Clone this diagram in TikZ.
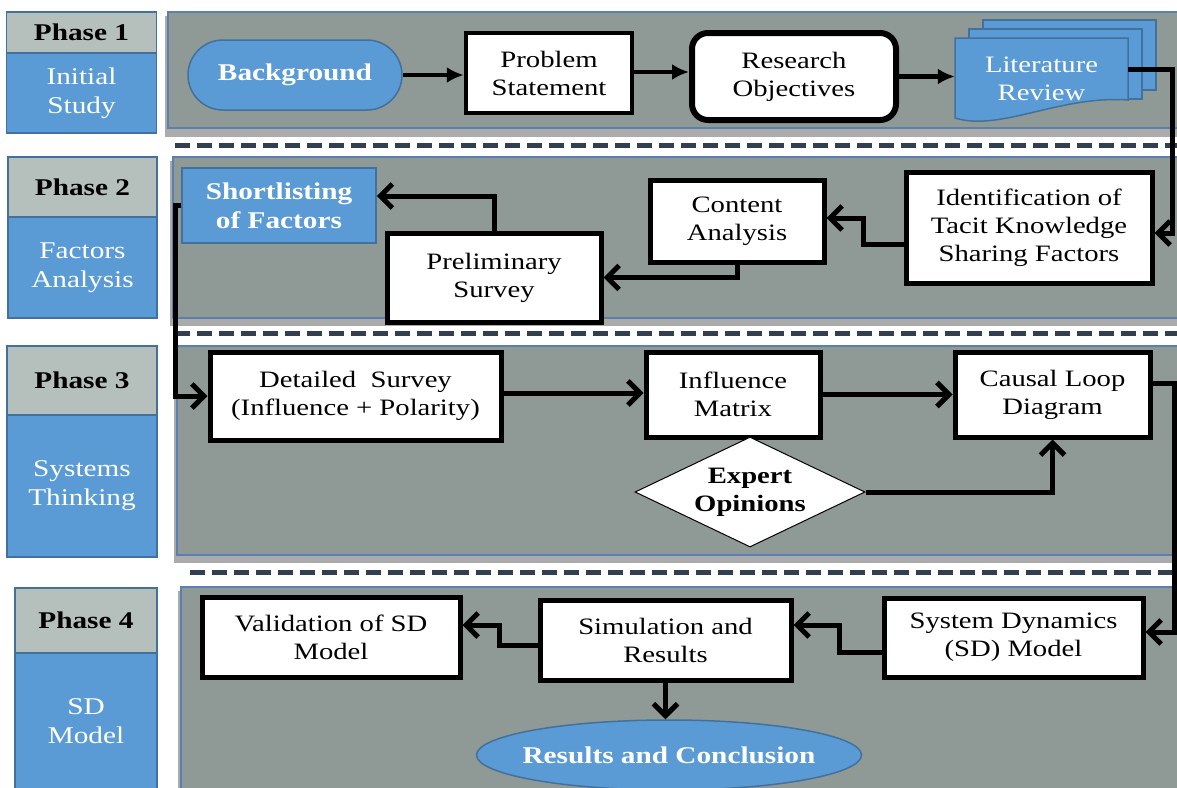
\documentclass[tikz,border=0pt]{standalone}
\usepackage{fontspec}
\setmainfont{Liberation Serif}[FakeStretch=1.22]
\usetikzlibrary{arrows.meta,shapes.geometric,shapes.misc}
\definecolor{panelgray}{HTML}{8F9996}
\definecolor{hdrgray}{HTML}{B5BFBC}
\definecolor{phblue}{HTML}{5B9BD5}
\definecolor{phborder}{HTML}{41719C}
\definecolor{panelborder}{HTML}{5B7FAF}
\definecolor{dashcol}{HTML}{323F4F}
\definecolor{shadowgray}{HTML}{ABABAB}
\newcommand\bxfont{\fontsize{23.5}{28}\selectfont}
\newcommand\hdfont{\fontsize{24}{29}\selectfont\bfseries}
\newcommand\bdfont{\fontsize{24}{29}\selectfont}
\begin{document}
\begin{tikzpicture}[x=1pt,y=-1pt,
  box/.style={draw=black, line width=5pt, fill=white, inner sep=0pt, align=center, font=\bxfont},
  bluebox/.style={draw=phborder, line width=1.5pt, fill=phblue, inner sep=0pt, align=center, text=white, font=\bxfont\bfseries},
  phhead/.style={draw=phborder, line width=1.5pt, fill=hdrgray, inner sep=0pt, align=center, font=\hdfont, minimum width=150pt},
  phbody/.style={draw=phborder, line width=1.5pt, fill=phblue, inner sep=0pt, align=center, text=white, font=\bdfont, minimum width=150pt},
  panel/.style={draw=panelborder, line width=1.5pt, fill=panelgray},
  shadowbox/.style={fill=shadowgray},
  sepline/.style={draw=dashcol, line width=5pt, dash pattern=on 15pt off 7pt},
  doc/.style={draw=phborder, line width=1.5pt, fill=phblue},
  conn/.style={line width=5pt, -{Straight Barb[length=12pt,width=24pt]}},
  connA/.style={line width=4.5pt, -{Latex[length=17pt,width=16pt]}},
  txt/.style={inner sep=0pt, align=center, font=\bxfont\bfseries}
]
\useasboundingbox (0,0) rectangle (1177,787);
\fill[white] (0,0) rectangle (1177,787);
\clip (0,0) rectangle (1177,787);

% ---------- panels ----------
\fill[shadowbox] (165,16) rectangle (1190,137);
\draw[panel] (168,12) rectangle (1190,128);
\fill[shadowbox] (170,161) rectangle (1190,326);
\draw[panel] (173,157) rectangle (1190,318);
\fill[shadowbox] (174,350) rectangle (1190,563);
\draw[panel] (177,346) rectangle (1190,555);
\fill[shadowbox] (178,591) rectangle (1190,800);
\draw[panel] (181,587) rectangle (1190,800);

\draw[sepline] (175,145) -- (1177,145);
\draw[sepline] (175,333) -- (1177,333);
\draw[sepline] (190,572) -- (1177,572);

% ---------- phase labels ----------
\node[phhead, minimum height=41pt] (h1) at (81.5,32.5) {Phase 1};
\node[phbody, minimum height=80pt] (b1) at (81.5,93) {Initial\\Study};
\node[phhead, minimum width=149pt, minimum height=60pt] (h2) at (82.5,187) {Phase 2};
\node[phbody, minimum width=149pt, minimum height=101pt] (b2) at (82.5,267.5) {Factors\\Analysis};
\node[phhead, minimum height=69pt] (h3) at (82,380.5) {Phase 3};
\node[phbody, minimum height=142pt] (b3) at (82,486) {Systems\\Thinking};
\node[phhead, minimum width=142pt, minimum height=65pt] (h4) at (86,620.5) {Phase 4};
\node[phbody, minimum width=142pt, minimum height=136pt] (b4) at (86,721) {SD\\Model};

% ---------- phase 1 ----------
\node[bluebox, rounded corners=35pt, minimum width=214pt, minimum height=70pt, font=\fontsize{24}{29}\selectfont\bfseries] (bg) at (295,75) {Background};
\node[box, line width=4.5pt, minimum width=166pt, minimum height=80pt] (ps) at (549,73) {Problem\\Statement};
\node[box, line width=6pt, rounded corners=16pt, minimum width=204pt, minimum height=87pt] (ro) at (794,76.5) {Research\\Objectives};
\filldraw[doc] (983,20) rectangle (1156,90);
\filldraw[doc] (969,29) rectangle (1142,99);
\filldraw[doc] (955,38) -- (1128,38) -- (1128,100) .. controls (1060,95) and (1000,132) .. (955,118) -- cycle;
\node[inner sep=0pt, minimum width=173pt, minimum height=82pt, align=center, text=white, font=\bxfont] (lr) at (1041.5,79) {Literature\\Review};

% ---------- phase 2 ----------
\node[box, minimum width=246pt, minimum height=111pt] (id) at (1029,227.5) {Identification of\\Tacit Knowledge\\Sharing Factors};
\node[box, minimum width=174pt, minimum height=82pt] (ca) at (737,221) {Content\\Analysis};
\node[box, minimum width=214pt, minimum height=89pt] (pre) at (494,277.5) {Preliminary\\Survey};
\node[bluebox, minimum width=194pt, minimum height=75pt, font=\fontsize{24}{29}\selectfont\bfseries] (sl) at (279,205.5) {Shortlisting\\of Factors};

% ---------- phase 3 ----------
\node[box, minimum width=291pt, minimum height=88pt] (ds) at (355.5,396) {Detailed~ Survey\\(Influence + Polarity)};
\node[box, minimum width=174pt, minimum height=85pt] (im) at (733,394.5) {Influence\\Matrix};
\node[box, minimum width=195pt, minimum height=85pt] (cl) at (1052.5,394.5) {Causal Loop\\Diagram};
\node[diamond, draw=black, line width=1pt, fill=white, inner sep=0pt, minimum width=230pt, minimum height=110pt] (eo) at (750,492) {};
\node[txt] (eot) at (eo.center) {Expert\\Opinions};

% ---------- phase 4 ----------
\node[box, minimum width=259pt, minimum height=79pt] (sd) at (1013.5,637.5) {System Dynamics\\(SD) Model};
\node[box, minimum width=251pt, minimum height=80pt] (sim) at (665.5,640) {Simulation and\\Results};
\node[box, minimum width=258pt, minimum height=80pt] (val) at (331,637) {Validation of SD\\Model};
\node[ellipse, draw=phborder, line width=1.5pt, fill=phblue, inner sep=0pt, minimum width=385pt, minimum height=70pt] (rc) at (669,755) {};
\node[txt, text=white, font=\fontsize{24}{29}\selectfont\bfseries] (rct) at (rc.center) {Results and Conclusion};

% ---------- connectors ----------
\draw[connA] (bg.east) -- (bg.east -| ps.west);
\draw[connA] ([yshift=1pt]ps.east) -- ([yshift=1pt]ps.east -| ro.west);
\draw[connA] (ro.east) -- (ro.east -| lr.west);
\draw[conn] ([yshift=10pt]lr.east) -- ++(44,0) |- ([yshift=-5.5pt]id.east);

\draw[conn] ([yshift=-17pt]id.west) -- ++(-40,0) |- ([yshift=3pt]ca.east);
\draw[conn] (ca.south) |- (pre.east);
\draw[conn] (pre.north) |- ([yshift=9.5pt]sl.east);
\draw[conn] (sl.west) -- ++(-6,0) |- (ds.west);

\draw[conn] ([yshift=3pt]ds.east) -- ([yshift=3pt]ds.east -| im.west);
\draw[conn] (im.east) -- (im.east -| cl.west);
\draw[conn] (eo.east) -| (cl.south);
\draw[conn] ([yshift=11pt]cl.east) -- ++(22,0) |- ([yshift=5.5pt]sd.east);

\draw[conn] ([yshift=-14.5pt]sd.west) -- ++(-42,0) |- ([yshift=15pt]sim.east);
\draw[conn] ([yshift=-5pt]sim.west) -- ++(-38,0) |- ([yshift=12pt]val.east);
\draw[conn] (sim.south) -- (sim.south |- rc.north);
\end{tikzpicture}
\end{document}
